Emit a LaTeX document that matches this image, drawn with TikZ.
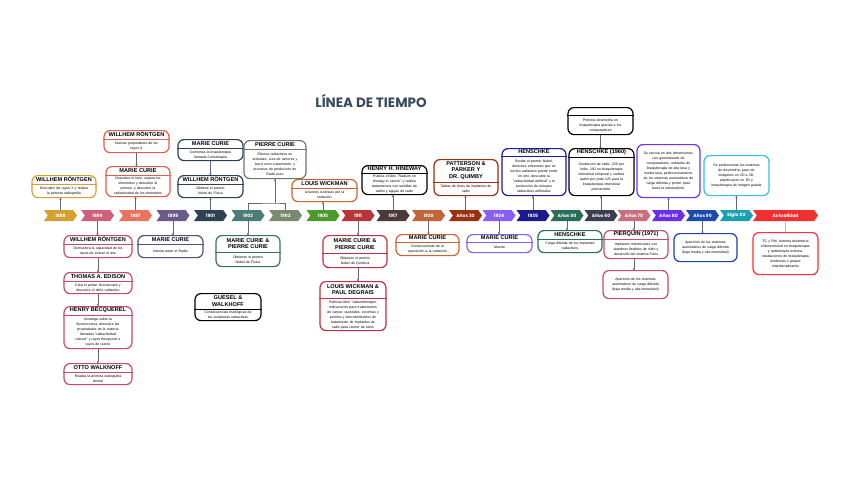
\documentclass[tikz,border=0pt]{standalone}
\usepackage{fontspec}
\setmainfont{Liberation Sans}
\newfontfamily\popfont{Poppins}
\usetikzlibrary{shapes.symbols,calc,arrows.meta}
\definecolor{conncol}{HTML}{5B6B7F}
\definecolor{titlecol}{HTML}{3A4A5E}
\definecolor{cA}{HTML}{D4A032}
\definecolor{cB}{HTML}{D0607A}
\definecolor{cC}{HTML}{E6745E}
\definecolor{cD}{HTML}{6A5A8A}
\definecolor{cE}{HTML}{2E4054}
\definecolor{cF}{HTML}{4A7C78}
\definecolor{cG}{HTML}{7A8A6E}
\definecolor{cH}{HTML}{4C9A2A}
\definecolor{cI}{HTML}{B8363A}
\definecolor{cJ}{HTML}{4A3A3A}
\definecolor{cK}{HTML}{C4643A}
\definecolor{cL}{HTML}{9A3010}
\definecolor{cM}{HTML}{8A5EF0}
\definecolor{cN}{HTML}{1A1A8A}
\definecolor{cO}{HTML}{2A6E5A}
\definecolor{cP}{HTML}{3A3E50}
\definecolor{cQ}{HTML}{C87080}
\definecolor{cR}{HTML}{6A2EE8}
\definecolor{cS}{HTML}{1A4AAA}
\definecolor{cT}{HTML}{1AA0B0}
\definecolor{cU}{HTML}{F03030}
\definecolor{bB}{HTML}{C84A68}
\definecolor{bC}{HTML}{E0604E}
\definecolor{bD}{HTML}{5A4A80}
\definecolor{bF}{HTML}{3A6E6A}
\definecolor{bG}{HTML}{6B7A65}
\definecolor{bI}{HTML}{C03040}
\definecolor{bK}{HTML}{CC6430}
\definecolor{bN}{HTML}{1A1AA8}
\definecolor{bR}{HTML}{7030F0}
\definecolor{bS}{HTML}{1A40B0}
\definecolor{bT}{HTML}{30C4E4}
\definecolor{bU}{HTML}{FF3030}
\definecolor{bQ}{HTML}{C05068}
\definecolor{conred}{HTML}{F4A0A8}
\tikzset{
  chev/.style={signal, signal to=east, signal from=west, signal pointer angle=110,
    minimum width=33pt, minimum height=11pt, inner sep=0pt, fill=#1, draw=none,
    text=white, font=\popfont\bfseries\fontsize{4.5}{4.5}\selectfont},
  conn/.style={draw=conncol, line width=0.7pt},
  tlbox/.style={draw=#1, line width=1.2pt, rounded corners=6pt, fill=white, inner sep=0pt},
  ttl/.style={font=\bfseries\fontsize{5.6}{6.5}\selectfont, align=center, inner sep=0pt},
  tdesc/.style={font=\fontsize{3.5}{5}\selectfont, align=center, inner sep=0pt},
}
\newcommand{\tlb}[8]{%
  \node[tlbox=#5, minimum width=#3pt, minimum height=#4pt, anchor=north] (#1) at (#2) {};
  \ifdim #6pt>0pt
    \draw[draw=#5, line width=0.9pt] ([yshift=-#6pt]#1.north west) -- ([yshift=-#6pt]#1.north east);
    \node[ttl] at ([yshift=-#6pt/2]#1.north) {#7};
  \fi
  \pgfmathsetmacro\tlbtw{#3-5}%
  \node[tdesc, text width=\tlbtw pt] at ($(#1.south)!0.5!([yshift=-#6pt]#1.north)$) {#8};
}
\begin{document}
\begin{tikzpicture}[x=1pt,y=-1pt]
\fill[white] (0,0) rectangle (848,477);
\useasboundingbox (0,0) rectangle (848,477);

\node[font=\popfont\bfseries\fontsize{13.5}{13.5}\selectfont, text=titlecol] (title) at (371,101) {LÍNEA DE TIEMPO};

% timeline
\node[chev=cA] (t1895) at (60.5,215.5) {1895};
\node[chev=cB] (t1896) at (97.5,215.5) {1896};
\node[chev=cC] (t1897) at (135.5,215.5) {1897};
\node[chev=cD] (t1899) at (173,215.5) {1899};
\node[chev=cE] (t1901) at (210.5,215.5) {1901};
\node[chev=cF] (t1902) at (248,215.5) {1902};
\node[chev=cG] (t1903) at (285.5,215.5) {1903};
\node[chev=cH] (t1905) at (323,215.5) {1905};
\node[chev=cI] (t1911) at (358,215.5) {1911};
\node[chev=cJ] (t1917) at (393,215.5) {1917};
\node[chev=cK] (t1920) at (428.5,215.5) {1920};
\node[chev=cL] (t30) at (465.5,215.5) {Años 30};
\node[chev=cM] (t1934) at (499,215.5) {1934};
\node[chev=cN] (t1935) at (533,215.5) {1935};
\node[chev=cO] (t50) at (567,215.5) {Años 50};
\node[chev=cP] (t60) at (601,215.5) {Años 60};
\node[chev=cQ] (t70) at (634,215.5) {Años 70};
\node[chev=cR] (t80) at (668.5,215.5) {Años 80};
\node[chev=cS] (t90) at (702.5,215.5) {Años 90};
\node[chev=cT] (tXX) at (736.5,215.5) {Siglo XX};
\node[chev=cU, minimum width=65pt] (tAct) at (785.5,215.5) {Actualidad};

% top boxes
\tlb{b1}{64,175}{64}{22}{cA}{9}{WILLHEM RÖNTGEN}{Descubre los rayos X y realiza\\la primera radiografía}
\tlb{b2}{136.5,130}{65}{22}{bC}{9}{WILLHEM RÖNTGEN}{Nuevas propiedades de los\\rayos X}
\tlb{b3}{138,166}{64}{30}{bC}{9}{MARIE CURIE}{Descubre el torio, separa los\\elementos y descubre el\\polonio, y descubre la\\radiactividad de los elementos}
\tlb{b4}{210.5,139}{65}{21}{cE}{9}{MARIE CURIE}{Comienza la braquiterapia\\llamada Curieterapia}
\tlb{b5}{210.5,175}{65}{22}{cE}{9}{WILLHEM RÖNTGEN}{Obtiene el premio\\Nobel de Física}
\tlb{b6}{275,140}{62}{38}{bG}{9}{PIERRE CURIE}{Efectos radiactivos en\\animales, cura de tumores y\\lepra como tratamiento, y\\procesos de producción de\\Radio puro}
\tlb{b7}{324.5,179}{65}{22}{bK}{9}{LOUIS WICKMAN}{Lesiones cutáneas por la\\radiación}
\tlb{b8}{394.5,165}{65}{29}{black}{8}{HENRY H. HINEWAY}{Publica el libro "Radium on\\therapy in cancer" y realiza\\tratamientos con semillas de\\radón y agujas de radio}
\tlb{b9}{466,159}{64}{36}{cL}{23}{PATTERSON \&\\PARKER Y\\DR. QUIMBY}{Tablas de dosis de implantes de\\radio}
\tlb{b10}{534,148}{64}{47}{bN}{8}{HENSCHKE}{Recibe el premio Nobel,\\descubre emisiones que un\\núcleo radiactivo puede emitir\\en otro, descubre la\\"radiactividad artificial" y la\\producción de isótopos\\radiactivos artificiales}
\tlb{b11}{600.5,107}{65}{27}{black}{8}{}{Primera dosimetría en\\braquiterapia gracias a los\\computadores}
\tlb{b12}{601.5,148}{65}{47}{black}{9}{HENSCHKE (1960)}{Sustitución de radio -226 por\\iridio -192 en braquiterapia\\intersticial temporal y cambia\\radón por yodo-125 para la\\braquiterapia intersticial\\permanente.}
\tlb{b13}{668.5,144}{63}{53}{bR}{0}{}{Se calcula en dos dimensiones,\\uso generalizado de\\computadores, unidades de\\braquiterapia de alta tasa y\\media tasa, perfeccionamiento\\de los sistemas automáticos de\\carga diferida y primer paso\\hacia la robotización.}
\tlb{b14}{736.5,155}{65}{40}{bT}{0}{}{Se perfeccionan los sistemas\\de dosimetría, paso de\\imágenes en 2D a 3D,\\planificación en 3D y\\braquiterapia de imagen guiada}

% bottom boxes
\tlb{b15}{98,235}{68}{22}{bB}{9}{WILLHEM RÖNTGEN}{Demuestra la capacidad de los\\rayos de ionizar el aire}
\tlb{b16}{98,272}{68}{21}{bB}{9}{THOMAS A. EDISON}{Crea el primer fluoroscopio y\\descubre el daño radiactivo}
\tlb{b17}{98,306}{68}{42}{bB}{9}{HENRY BECQUEREL}{Investiga sobre la\\fluorescencia, descubre las\\propiedades de la materia\\llamadas "radiactividad\\natural" y rayos Becquerel o\\rayos de uranio}
\tlb{b18}{98,363}{68}{21}{bB}{9}{OTTO WALKNOFF}{Realiza la primera radiografía\\dental}
\tlb{b19}{170.5,235}{65}{22}{bD}{9}{MARIE CURIE}{Intenta aislar el Radio}
\tlb{b20}{248,235}{64}{31}{bF}{17}{MARIE CURIE \&\\PIERRE CURIE}{Obtienen el premio\\Nobel de Física}
\tlb{b21}{228,293}{66}{27}{black}{16}{GUESEL \&\\WALKHOFF}{Consecuencias fisiológicas de\\las sustancias radiactivas}
\tlb{b22}{355,235}{64}{32}{bI}{18}{MARIE CURIE \&\\PIERRE CURIE}{Obtienen el premio\\Nobel de Química}
\tlb{b23}{353,281}{66}{49}{bI}{17}{LOUIS WICKMAN \&\\PAUL DEGRAIS}{Publican libro "radiumthérapie,\\indicaciones para tratamientos\\de cáncer, queloides, eccemas y\\pruritos y descubrimientos de\\tratamiento de implantes de\\radio para cáncer de útero}
\tlb{b24}{427.5,234}{63}{21}{bK}{8}{MARIE CURIE}{Consecuencias de la\\exposición a la radiación}
\tlb{b25}{499.5,234}{65}{18}{cM}{8}{MARIE CURIE}{Muerte}
\tlb{b26}{570,230}{64}{22}{cO}{9}{HENSCHKE}{Carga diferida de los implantes\\radiactivos}
\tlb{b27}{636,230}{64}{28}{bQ}{9}{PIERQUIN (1971)}{Implantes intersticiales con\\alambres flexibles de iridio y\\desarrollo del sistema París}
\tlb{b28}{635.5,270}{65}{28}{bQ}{0}{}{Aparición de los sistemas\\automáticos de carga diferida\\(baja media y alta intensidad)}
\tlb{b29}{705.5,233}{63}{28}{bS}{0}{}{Aparición de los sistemas\\automáticos de carga diferida\\(baja media y alta intensidad)}
\tlb{b30}{785.5,232}{65}{42}{bU}{0}{}{TC y RM, sistema dosimetría\\tridimensional en braquiterapia\\y radioterapia externa,\\instalaciones de braquiterapia\\modernas y grupos\\interdisciplinarios}

% connectors (top)
\tikzset{dot/.style={-{Circle[length=2pt]}}}
\draw[conn,dot] (t1895.north) -- (t1895.north |- b1.south);
\draw[conn,dot] (b2.south) -- (b2.south |- b3.north);
\draw[conn,dot] (t1897.north) -- (t1897.north |- b3.south);
\draw[conn,dot] (b4.south) -- (b5.north);
\draw[conn,dot] (t1901.north) -- (t1901.north |- b5.south);
\coordinate (pcj) at (275,203);
\draw[conn] (t1902.north) |- (pcj) -| (t1903.north);
\draw[conn,dot] (pcj) -- (b6.south);
\draw[conn,dot] (t1905.north) -- (t1905.north |- b7.south);
\draw[conn,dot] (t1917.north) -- (t1917.north |- b8.south);
\draw[conn,dot] (t30.north) -- (t30.north |- b9.south);
\draw[conn,dot] (t1935.north) -- (t1935.north |- b10.south);
\draw[conn,dot] (b11.south) -- (b11.south |- b12.north);
\draw[conn,dot] (t60.north) -- (t60.north |- b12.south);
\draw[conn,dot] (t80.north) -- (t80.north |- b13.south);
\draw[conn,dot] (tXX.north) -- (tXX.north |- b14.south);
% connectors (bottom)
\draw[conn,dot] (t1896.south) -- (t1896.south |- b15.north);
\draw[conn,dot] (b15.south) -- (b16.north);
\draw[conn,dot] (b16.south) -- (b17.north);
\draw[conn,dot] (b17.south) -- (b18.north);
\draw[conn,dot] (t1899.south) -- (t1899.south |- b19.north);
\draw[conn,dot] (t1902.south) -- (t1902.south |- b20.north);
\draw[conn,dot] (t1911.south) -- (t1911.south |- b22.north);
\draw[conn,dot] (t1911.south |- b22.south) -- (t1911.south |- b23.north);
\draw[conn,dot] (t1920.south) -- (t1920.south |- b24.north);
\draw[conn,dot] (t1934.south) -- (t1934.south |- b25.north);
\draw[conn,dot] (t50.south) -- (t50.south |- b26.north);
\draw[conn,dot] (t70.south) -- (t70.south |- b27.north);
\draw[conn,dot] (t70.south |- b27.south) -- (t70.south |- b28.north);
\draw[conn,dot] (t90.south) -- (t90.south |- b29.north);
\draw[draw=conred, line width=0.7pt] (tAct.south) -- (tAct.south |- b30.north);
\end{tikzpicture}
\end{document}
